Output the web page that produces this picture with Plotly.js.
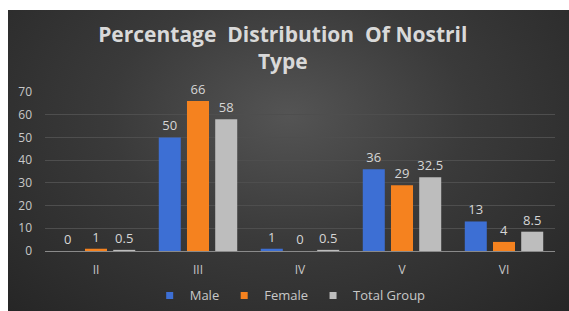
<!DOCTYPE html>
<html>
<head>
<meta charset="utf-8">
<script src="https://cdn.plot.ly/plotly-3.0.1.min.js"></script>
<style>
  html, body { margin:0; padding:0; background:#ffffff; }
  #wrap { position:relative; width:569px; height:311px; background:#ffffff; overflow:hidden; }
  #bg { position:absolute; left:8px; top:10px; width:561px; height:301px;
        background: radial-gradient(ellipse at 50% 35%, #545454 0%, #3a3a3a 45%, #262626 100%); }
  #chart { position:absolute; left:0; top:0; width:569px; height:311px; }
</style>
</head>
<body>
<div id="wrap">
  <div id="bg"></div>
  <div id="chart"></div>
</div>
<script>
const categories = ["II", "III", "IV", "V", "VI"];
const male = [0, 50, 1, 36, 13];
const female = [1, 66, 0, 29, 4];
const totalGroup = [0.5, 58, 0.5, 32.5, 8.5];
const seriesNames = ["Male", "Female", "Total Group"];
const yTicks = [0, 10, 20, 30, 40, 50, 60, 70];

const colors = ["#3d6fd4", "#f5821f", "#bdbdbd"];
const series = [male, female, totalGroup];

const traces = series.map((vals, i) => ({
  type: "bar",
  name: seriesNames[i],
  legendgroup: seriesNames[i],
  showlegend: false,
  x: categories,
  y: vals,
  text: vals.map(v => String(v)),
  textposition: "outside",
  constraintext: "none",
  cliponaxis: false,
  textfont: { family: "Open Sans, sans-serif", size: 13, color: "#d6d6d6" },
  marker: { color: colors[i], line: { width: 0 } },
  hoverinfo: "skip"
}));

// legend entries with small square swatches (no data drawn)
seriesNames.forEach((nm, i) => {
  traces.push({
    type: "scatter",
    mode: "markers",
    name: nm,
    legendgroup: nm,
    showlegend: true,
    x: [null],
    y: [null],
    marker: { symbol: "square", size: 7, color: colors[i] },
    hoverinfo: "skip"
  });
});

const layout = {
  width: 569,
  height: 311,
  paper_bgcolor: "rgba(0,0,0,0)",
  plot_bgcolor: "rgba(0,0,0,0)",
  margin: { l: 45, r: 14, t: 92, b: 60 },
  barmode: "group",
  bargap: 0.17,
  bargroupgap: 0.22,
  title: {
    text: "Percentage&nbsp; Distribution&nbsp; Of Nostril<br>Type",
    font: { family: "Open Sans, sans-serif", size: 21, color: "#d9d9d9", weight: "bold" },
    x: 0.497, xanchor: "center", xref: "container",
    y: 0.865, yanchor: "middle", yref: "container"
  },
  xaxis: {
    type: "category",
    showgrid: false,
    showline: true,
    linecolor: "#8a8a8a",
    linewidth: 1,
    ticks: "",
    ticklabelstandoff: 8,
    tickfont: { family: "Open Sans, sans-serif", size: 12, color: "#c8c8c8" },
    fixedrange: true
  },
  yaxis: {
    range: [0, 70],
    tickvals: yTicks,
    ticktext: yTicks.map(String),
    showgrid: true,
    gridcolor: "#4e4e4e",
    gridwidth: 1,
    zeroline: false,
    showline: false,
    ticks: "",
    ticklabelstandoff: 12,
    tickfont: { family: "Open Sans, sans-serif", size: 12, color: "#c8c8c8" },
    fixedrange: true
  },
  showlegend: true,
  legend: {
    orientation: "h",
    xref: "container", yref: "container",
    x: 0.51, xanchor: "center",
    y: 0.05, yanchor: "middle",
    font: { family: "Open Sans, sans-serif", size: 13, color: "#c8c8c8" },
    itemwidth: 30,
    traceorder: "normal",
    bgcolor: "rgba(0,0,0,0)"
  }
};

Plotly.newPlot("chart", traces, layout, { displayModeBar: false, staticPlot: true });
</script>
</body>
</html>
